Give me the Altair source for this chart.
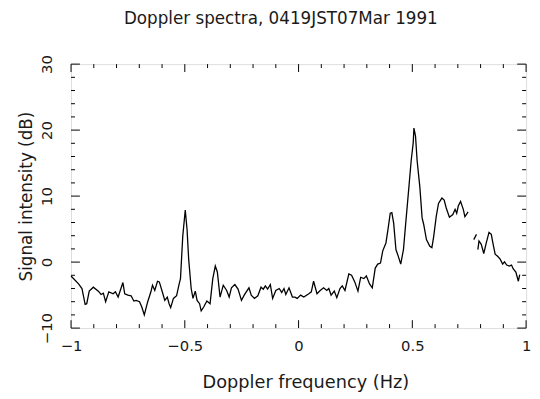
import altair as alt
import pandas as pd

# Main trace (-1 .. 0.745 Hz)
freq_a = [-1.0, -0.967, -0.952, -0.938, -0.931, -0.920, -0.902, -0.880, -0.868, -0.858,
          -0.848, -0.834, -0.815, -0.805, -0.793, -0.772, -0.764, -0.750, -0.736, -0.724,
          -0.714, -0.699, -0.689, -0.678, -0.663, -0.649, -0.642, -0.632, -0.620, -0.612,
          -0.598, -0.588, -0.577, -0.569, -0.562, -0.550, -0.536, -0.526, -0.519, -0.509,
          -0.498, -0.490, -0.483, -0.472, -0.464, -0.454, -0.446, -0.435, -0.428, -0.417,
          -0.403, -0.389, -0.377, -0.366, -0.357, -0.345, -0.331, -0.316, -0.305, -0.295,
          -0.280, -0.266, -0.251, -0.237, -0.218, -0.208, -0.194, -0.179, -0.165, -0.155,
          -0.146, -0.136, -0.124, -0.114, -0.100, -0.085, -0.074, -0.064, -0.056, -0.042,
          -0.027, -0.016, -0.006, 0.009, 0.023, 0.045, 0.056, 0.066, 0.081, 0.095,
          0.110, 0.124, 0.133, 0.143, 0.157, 0.168, 0.182, 0.192, 0.204, 0.221,
          0.233, 0.247, 0.261, 0.273, 0.287, 0.298, 0.312, 0.324, 0.337, 0.348,
          0.360, 0.370, 0.384, 0.394, 0.403, 0.410, 0.418, 0.428, 0.438, 0.449,
          0.461, 0.471, 0.485, 0.495, 0.504, 0.507, 0.514, 0.521, 0.533, 0.543,
          0.550, 0.562, 0.577, 0.586, 0.594, 0.605, 0.615, 0.630, 0.640, 0.649,
          0.663, 0.678, 0.688, 0.695, 0.702, 0.712, 0.724, 0.731, 0.741, 0.745]
level_a = [-2.1, -3.3, -4.0, -6.4, -6.3, -4.4, -3.8, -4.4, -4.9, -4.7,
           -6.0, -4.5, -4.8, -4.5, -5.3, -3.1, -4.8, -5.0, -5.1, -5.9,
           -5.8, -6.0, -6.8, -8.0, -6.0, -4.5, -3.5, -4.3, -2.9, -3.0,
           -4.6, -5.8, -5.3, -6.3, -6.9, -5.5, -5.1, -3.5, -2.5, 3.9,
           7.9, 4.9, 0.45, -4.0, -5.5, -4.4, -5.8, -6.3, -7.4, -6.8,
           -5.9, -6.3, -2.5, -0.6, -1.5, -5.3, -3.5, -4.3, -5.3, -3.9,
           -3.4, -4.1, -5.8, -4.9, -3.9, -5.0, -5.5, -5.1, -3.8, -4.1,
           -3.6, -4.1, -3.4, -5.5, -4.3, -4.0, -4.6, -4.0, -4.9, -3.9,
           -5.3, -5.3, -5.5, -5.0, -5.3, -4.8, -4.5, -2.9, -4.8, -4.3,
           -3.9, -4.3, -4.0, -5.0, -4.4, -5.4, -4.0, -3.6, -4.3, -1.8,
           -2.0, -3.0, -4.4, -2.3, -2.5, -2.1, -3.3, -3.9, -0.9, -0.3,
           -0.15, 1.7, 2.9, 5.2, 7.4, 7.5, 5.9, 1.9, 0.9, -0.3,
           1.9, 5.9, 11.4, 15.4, 18.1, 20.3, 19.1, 15.4, 11.4, 6.7,
           5.7, 3.4, 2.4, 2.2, 3.9, 6.9, 8.9, 9.7, 9.4, 8.2,
           6.8, 7.2, 8.0, 7.4, 8.5, 9.2, 8.0, 6.9, 7.4, 7.6]

# Short isolated piece
freq_b = [0.770, 0.782]
level_b = [3.4, 4.2]

# Tail trace
freq_c = [0.788, 0.793, 0.803, 0.814, 0.825, 0.837, 0.847, 0.854, 0.864, 0.876,
          0.886, 0.897, 0.905, 0.915, 0.926, 0.936, 0.943, 0.955, 0.966, 0.972]
level_c = [1.9, 3.2, 2.7, 1.3, 2.9, 4.5, 4.2, 2.9, 1.2, 0.85,
           0.45, -0.3, 0.05, -0.45, -0.6, -0.45, -1.0, -1.5, -2.9, -1.9]

x_major = [-1.0, -0.5, 0.0, 0.5, 1.0]
x_minor = [-0.9, -0.8, -0.7, -0.6, -0.4, -0.3, -0.2, -0.1, 0.1, 0.2, 0.3, 0.4, 0.6, 0.7, 0.8, 0.9]
y_major = [-10, 0, 10, 20, 30]
y_minor = [-8, -6, -4, -2, 2, 4, 6, 8, 12, 14, 16, 18, 22, 24, 26, 28]

W, H = 462, 268
FONT = "DejaVu Sans"
INK = "#1a1a1a"

df = pd.DataFrame({
    "f": freq_a + freq_b + freq_c,
    "s": level_a + level_b + level_c,
    "seg": ["a"] * len(freq_a) + ["b"] * len(freq_b) + ["c"] * len(freq_c),
})

xs = alt.Scale(domain=[-1, 1], nice=False, zero=False)
ys = alt.Scale(domain=[-10, 30], nice=False, zero=False)

line = alt.Chart(df).mark_line(color="black", strokeWidth=1.3).encode(
    x=alt.X("f:Q", scale=xs, axis=alt.Axis(
        values=x_major, ticks=False, domain=False, grid=False, labelFlush=False,
        labelExpr="datum.value == 0 ? '0' : format(datum.value, '~g')",
        labelFont=FONT, labelFontSize=15, labelColor=INK, labelPadding=11,
        title="Doppler frequency (Hz)", titleFont=FONT, titleFontSize=18,
        titleFontWeight="normal", titleColor=INK, titleX=238, titleY=55,
        titleBaseline="middle")),
    y=alt.Y("s:Q", scale=ys, axis=alt.Axis(
        values=y_major, ticks=False, domain=False, grid=False, labelFlush=False,
        labelAngle=270, labelAlign="center", labelBaseline="bottom", labelPadding=17,
        labelFont=FONT, labelFontSize=15, labelColor=INK,
        title="Signal intensity (dB)", titleFont=FONT, titleFontSize=17,
        titleFontWeight="normal", titleColor=INK, titleX=-45, titleY=134,
        titleAngle=270, titleBaseline="middle", titleAlign="center")),
    detail="seg:N",
)

xmaj = pd.DataFrame({"v": x_major})
xmin = pd.DataFrame({"v": x_minor})
ymaj = pd.DataFrame({"v": y_major})
ymin = pd.DataFrame({"v": y_minor})


def xticks(d, length):
    bottom = alt.Chart(d).mark_rule(color="black", strokeWidth=1).encode(
        x=alt.X("v:Q", scale=xs, axis=None), y=alt.value(H), y2=alt.value(H - length))
    top = alt.Chart(d).mark_rule(color="black", strokeWidth=1).encode(
        x=alt.X("v:Q", scale=xs, axis=None), y=alt.value(0), y2=alt.value(length))
    return [bottom, top]


def yticks(d, length):
    left = alt.Chart(d).mark_rule(color="black", strokeWidth=1).encode(
        y=alt.Y("v:Q", scale=ys, axis=None), x=alt.value(0), x2=alt.value(length))
    right = alt.Chart(d).mark_rule(color="black", strokeWidth=1).encode(
        y=alt.Y("v:Q", scale=ys, axis=None), x=alt.value(W), x2=alt.value(W - length))
    return [left, right]


layers = [line] + xticks(xmaj, 8) + xticks(xmin, 4) + yticks(ymaj, 9) + yticks(ymin, 4)

chart = alt.layer(*layers).resolve_axis(x="independent", y="independent").properties(
    width=W, height=H,
    title=alt.Title("Doppler spectra, 0419JST07Mar 1991", anchor="middle", dx=-18,
                    offset=27, font=FONT, fontSize=17, fontWeight="normal", color=INK),
    autosize=alt.AutoSizeParams(type="none"),
    padding={"left": 64, "top": 54, "right": 6, "bottom": 68},
).configure_view(stroke="black", strokeWidth=1).configure(background="white")

chart.save("out.html", embed_options={"renderer": "svg", "actions": False})
